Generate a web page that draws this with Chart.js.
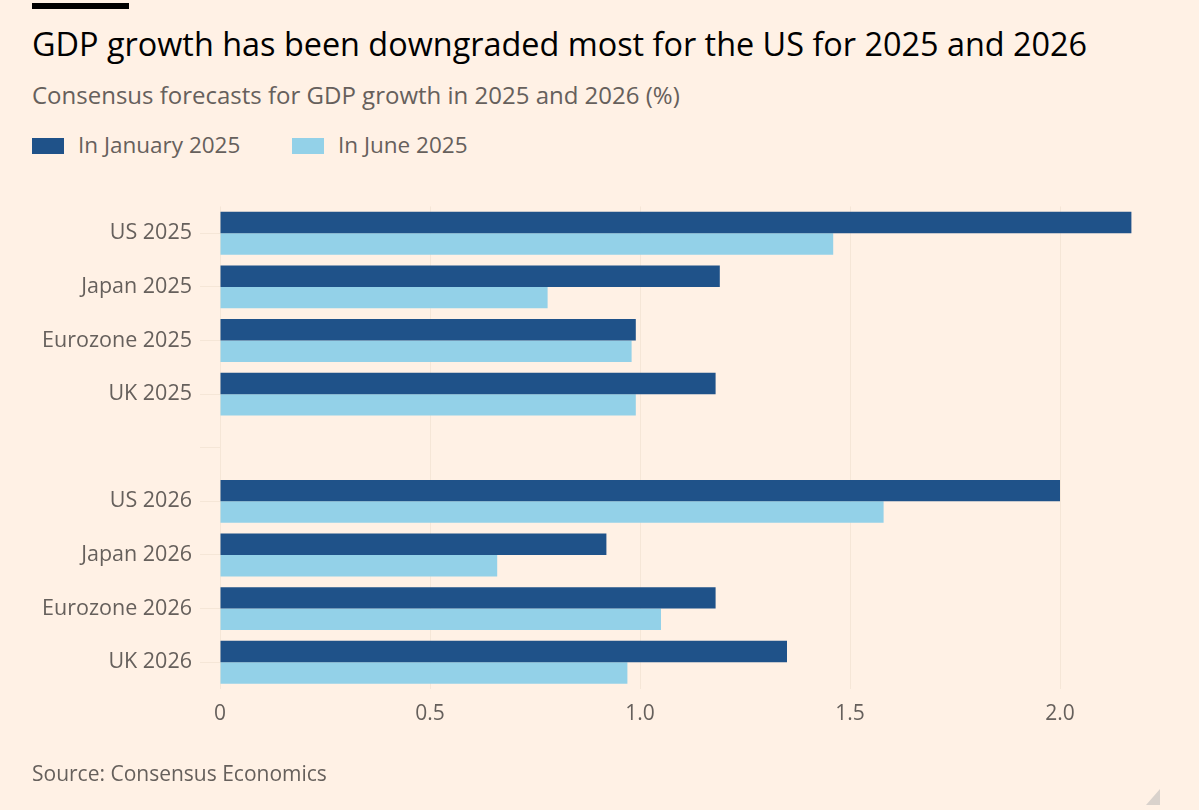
<!DOCTYPE html>
<html>
<head>
<meta charset="utf-8">
<script src="https://cdn.jsdelivr.net/npm/chart.js@4"></script>
<style>
  html, body { margin: 0; padding: 0; background: #fff1e5; }
  body { width: 1199px; height: 810px; position: relative; overflow: hidden; font-family: "Open Sans", sans-serif; }
  .bar { position: absolute; left: 32px; top: 3px; width: 97px; height: 6px; background: #000; }
  .title { position: absolute; left: 32px; top: 23px; font-size: 32.4px; line-height: 40px; color: #000; white-space: nowrap; }
  .subtitle { position: absolute; left: 32px; top: 80px; font-size: 24px; line-height: 30px; color: #66605c; white-space: nowrap; }
  .legend { position: absolute; left: 32px; top: 130px; height: 30px; font-size: 22.5px; line-height: 30px; color: #66605c; white-space: nowrap; }
  .legend span.item { position: absolute; top: 0; }
  .legend span.sw { position: absolute; top: 8px; width: 32px; height: 16px; }
  .legend span.lbl { position: absolute; top: 0; left: 46px; }
  .source { position: absolute; left: 32px; top: 758px; font-size: 21px; line-height: 30px; color: #66605c; white-space: nowrap; }
  .corner { position: absolute; left: 1146px; top: 789px; width: 0; height: 0; border-left: 14px solid transparent; border-bottom: 16px solid #d9d2cc; }
  #wrap { position: absolute; left: 0; top: 180px; width: 1199px; height: 580px; }
</style>
</head>
<body>
<div class="bar"></div>
<div class="title">GDP growth has been downgraded most for the US for 2025 and 2026</div>
<div class="subtitle">Consensus forecasts for GDP growth in 2025 and 2026 (%)</div>
<div class="legend" id="legend"></div>
<div id="wrap"><canvas id="c"></canvas></div>
<div class="source">Source: Consensus Economics</div>
<div class="corner"></div>
<script>
const categories = ["US 2025", "Japan 2025", "Eurozone 2025", "UK 2025", "", "US 2026", "Japan 2026", "Eurozone 2026", "UK 2026"];
const seriesNames = ["In January 2025", "In June 2025"];
const january2025 = [2.17, 1.19, 0.99, 1.18, null, 2.00, 0.92, 1.18, 1.35];
const june2025 = [1.46, 0.78, 0.98, 0.99, null, 1.58, 0.66, 1.05, 0.97];
const xTickValues = [0, 0.5, 1.0, 1.5, 2.0];
const xTickLabels = ["0", "0.5", "1.0", "1.5", "2.0"];
const seriesColors = ["#1f5289", "#93d1e8"];

// HTML legend built from series
const legendEl = document.getElementById('legend');
const legendOffsets = [0, 260];
seriesNames.forEach((name, i) => {
  const item = document.createElement('span');
  item.className = 'item';
  item.style.left = legendOffsets[i] + 'px';
  item.innerHTML = '<span class="sw" style="background:' + seriesColors[i] + '"></span><span class="lbl">' + name + '</span>';
  legendEl.appendChild(item);
});

const gridColor = 'rgba(120, 80, 40, 0.07)';
const textColor = '#66605c';

new Chart(document.getElementById('c'), {
  type: 'bar',
  data: {
    labels: categories,
    datasets: [
      { label: seriesNames[0], data: january2025, backgroundColor: seriesColors[0], borderWidth: 0 },
      { label: seriesNames[1], data: june2025, backgroundColor: seriesColors[1], borderWidth: 0 }
    ]
  },
  options: {
    indexAxis: 'y',
    responsive: true,
    maintainAspectRatio: false,
    animation: false,
    layout: { padding: { left: 0, right: 55, top: 26.5, bottom: 31 } },
    datasets: { bar: { barPercentage: 1.0, categoryPercentage: 0.8 } },
    plugins: { legend: { display: false }, tooltip: { enabled: false } },
    scales: {
      x: {
        type: 'linear',
        min: 0,
        max: 2.2,
        afterBuildTicks: (axis) => { axis.ticks = xTickValues.map(v => ({ value: v })); },
        afterFit: (scale) => { scale.height = 40; },
        border: { display: false },
        grid: { color: gridColor, drawTicks: false, lineWidth: 1 },
        ticks: {
          padding: 12,
          color: textColor,
          font: { family: 'Open Sans', size: 21 },
          callback: (v, i) => xTickLabels[i]
        }
      },
      y: {
        afterFit: (scale) => { scale.width = 220; },
        border: { display: false },
        grid: { color: gridColor, drawOnChartArea: false, drawTicks: true, tickLength: 20, offset: false },
        ticks: {
          padding: 8,
          color: textColor,
          font: { family: 'Open Sans', size: 21.5 }
        }
      }
    }
  }
});
</script>
</body>
</html>
